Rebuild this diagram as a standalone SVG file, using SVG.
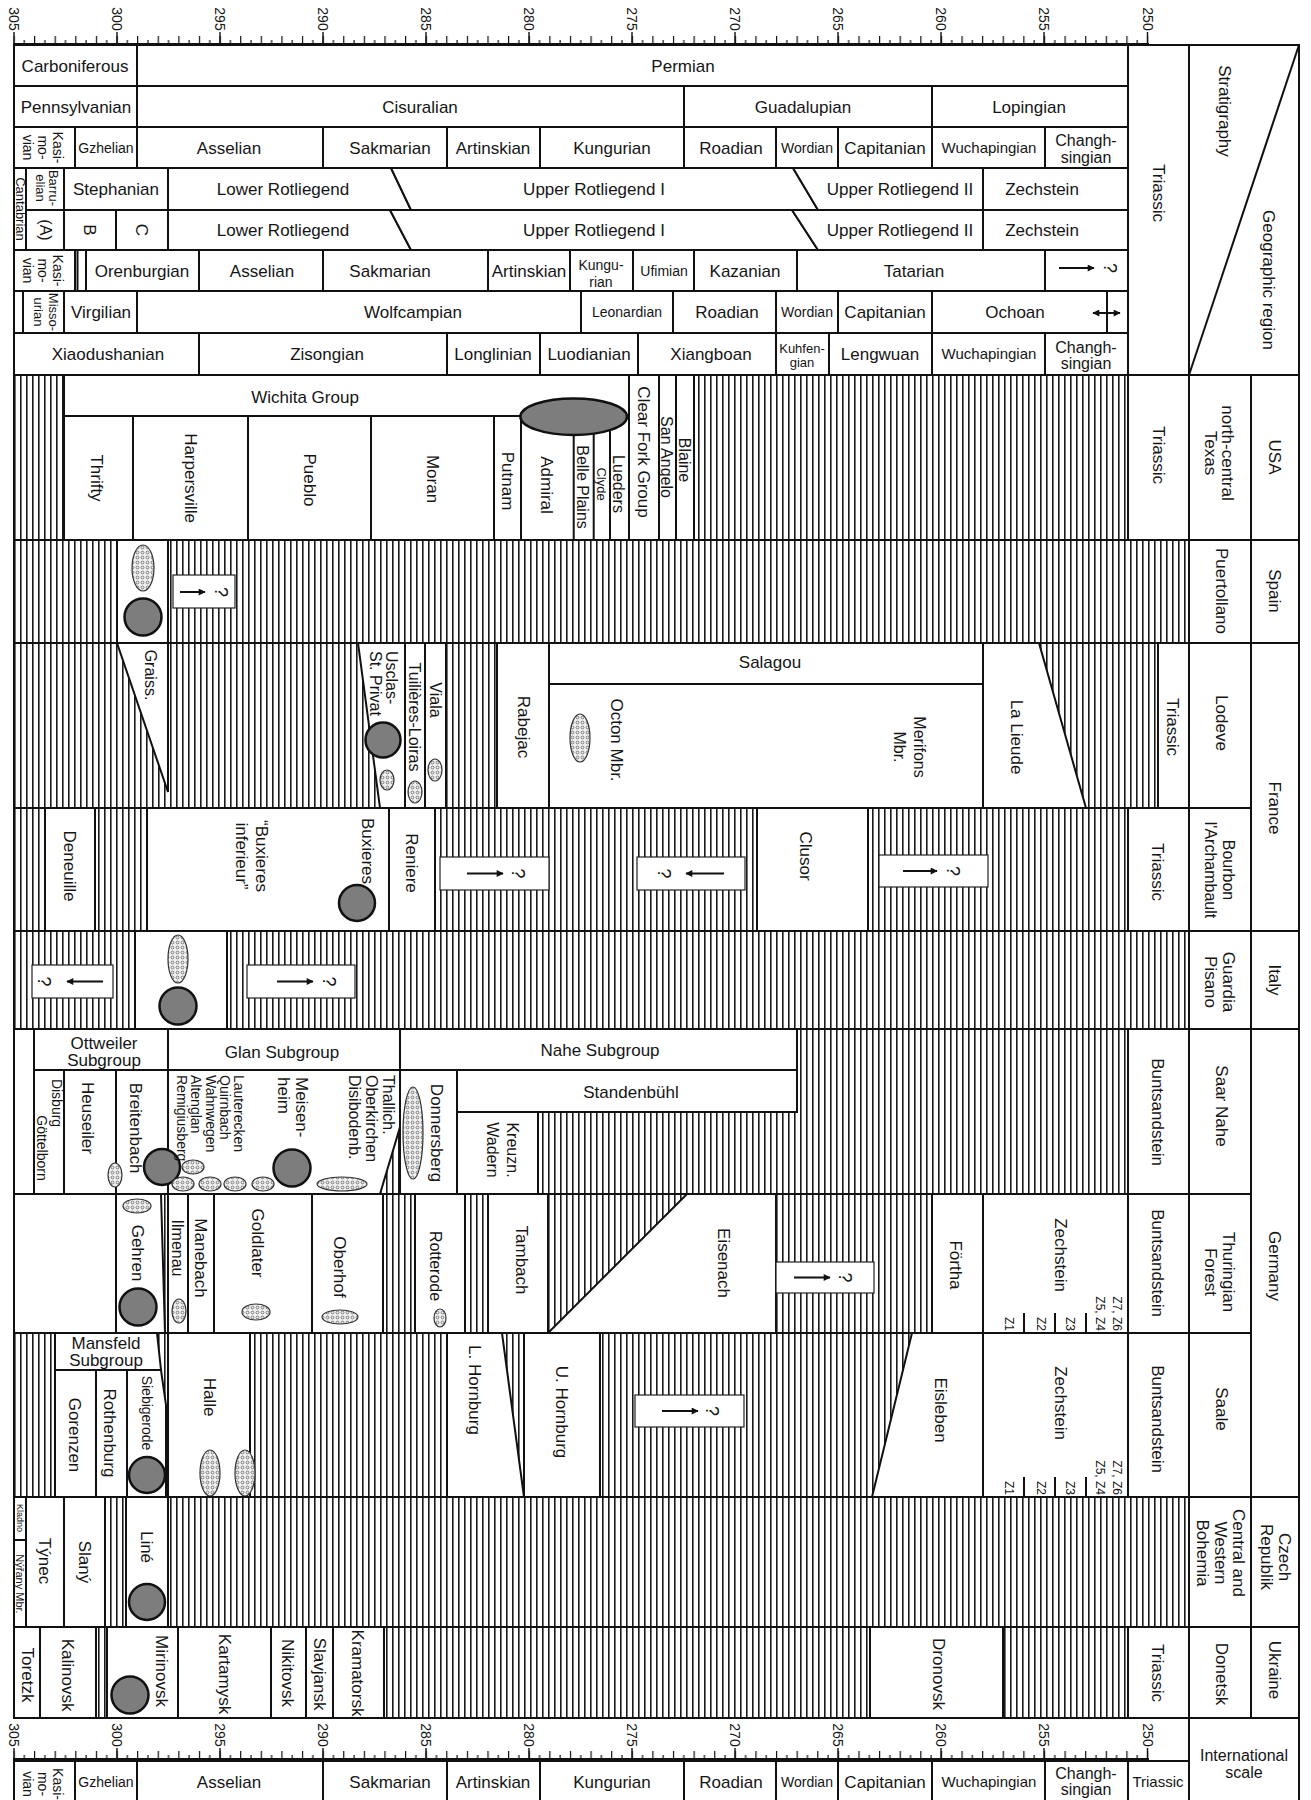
<svg xmlns="http://www.w3.org/2000/svg" width="1311" height="1800" viewBox="0 0 1311 1800">
<defs>
<pattern id="hv" x="0" y="0" width="6" height="20" patternUnits="userSpaceOnUse"><rect width="6" height="20" fill="#fff"/><rect x="2" y="0" width="1.6" height="20" fill="#1a1a1a"/></pattern>
<pattern id="dt" x="0" y="0" width="5" height="5" patternUnits="userSpaceOnUse"><rect width="5" height="5" fill="#f0f0f0"/><circle cx="2.5" cy="2.5" r="1.4" fill="none" stroke="#555" stroke-width="0.7"/></pattern>
<pattern id="tkT" x="13.4" y="36" width="20.61" height="8" patternUnits="userSpaceOnUse"><rect x="0" y="0" width="1.2" height="8" fill="#111"/><rect x="10.3" y="4" width="1.2" height="4" fill="#111"/></pattern>
<pattern id="tkB" x="13.4" y="1751" width="20.61" height="8" patternUnits="userSpaceOnUse"><rect x="0" y="0" width="1.2" height="8" fill="#111"/><rect x="10.3" y="4" width="1.2" height="4" fill="#111"/></pattern>
<marker id="ar" viewBox="0 0 10 10" refX="9" refY="5" markerWidth="9" markerHeight="7" markerUnits="userSpaceOnUse" orient="auto-start-reverse"><path d="M0,0 L10,5 L0,10 z" fill="#111"/></marker>
</defs>
<style>
text{font-family:"Liberation Sans",Arial,Helvetica,sans-serif;fill:#151515}
.c{fill:#fff;stroke:#111;stroke-width:2}
.hz{fill:url(#hv);stroke:#111;stroke-width:2}
.ln{stroke:#111;stroke-width:2;fill:none}
.t{font-size:17px;text-anchor:middle}
.s{font-size:14px;text-anchor:middle}
.m{font-size:15px;text-anchor:middle}
.f16{font-size:16px;text-anchor:middle}
.f13{font-size:13px;text-anchor:middle}
.st{font-size:14px;text-anchor:start}
.s16{font-size:16px;text-anchor:start}
.s17{font-size:17px;text-anchor:start}
.z{font-size:12px;text-anchor:end}
.n{font-size:14px;text-anchor:middle}
.q{font-size:18px;text-anchor:middle}
.g{fill:#7d7d7d;stroke:#111;stroke-width:2.5}
.d{fill:url(#dt);stroke:#333;stroke-width:1.2}
.ab{fill:#fff;stroke:#222;stroke-width:1.2}
.aw{stroke:#111;stroke-width:2;marker-end:url(#ar)}
.tk{stroke:#111;stroke-width:1.4}
</style>
<rect width="1311" height="1800" fill="#fff"/>

<g id="ruler-top">
<rect x="13.4" y="36" width="1136" height="8" fill="url(#tkT)"/>
<line class="ln" x1="13" y1="44" x2="1149" y2="44"/>
<path class="tk" d="M14 32V44M117 32V44M220 32V44M323 32V44M426 32V44M529 32V44M632 32V44M735 32V44M838 32V44M941 32V44M1044 32V44M1147.5 32V44"/>
<text class="n" transform="translate(14,19) rotate(90)" y="5">305</text>
<text class="n" transform="translate(117,19) rotate(90)" y="5">300</text>
<text class="n" transform="translate(220,19) rotate(90)" y="5">295</text>
<text class="n" transform="translate(323,19) rotate(90)" y="5">290</text>
<text class="n" transform="translate(426,19) rotate(90)" y="5">285</text>
<text class="n" transform="translate(529,19) rotate(90)" y="5">280</text>
<text class="n" transform="translate(632,19) rotate(90)" y="5">275</text>
<text class="n" transform="translate(735,19) rotate(90)" y="5">270</text>
<text class="n" transform="translate(838,19) rotate(90)" y="5">265</text>
<text class="n" transform="translate(941,19) rotate(90)" y="5">260</text>
<text class="n" transform="translate(1044,19) rotate(90)" y="5">255</text>
<text class="n" transform="translate(1147.5,19) rotate(90)" y="5">250</text>
</g>

<g id="header">
<rect class="c" x="14" y="45" width="123" height="41"/>
<rect class="c" x="137" y="45" width="991" height="41"/>
<text class="t" x="75" y="72">Carboniferous</text>
<text class="t" x="683" y="72">Permian</text>

<rect class="c" x="14" y="86" width="123" height="41"/>
<rect class="c" x="137" y="86" width="547" height="41"/>
<rect class="c" x="684" y="86" width="248" height="41"/>
<rect class="c" x="932" y="86" width="196" height="41"/>
<text class="t" x="76" y="113">Pennsylvanian</text>
<text class="t" x="420" y="113">Cisuralian</text>
<text class="t" x="803" y="113">Guadalupian</text>
<text class="t" x="1029" y="113">Lopingian</text>

<rect class="c" x="14" y="127" width="61" height="41"/>
<rect class="c" x="75" y="127" width="62" height="41"/>
<rect class="c" x="137" y="127" width="186" height="41"/>
<rect class="c" x="323" y="127" width="124" height="41"/>
<rect class="c" x="447" y="127" width="93" height="41"/>
<rect class="c" x="540" y="127" width="144" height="41"/>
<rect class="c" x="684" y="127" width="92" height="41"/>
<rect class="c" x="776" y="127" width="62" height="41"/>
<rect class="c" x="838" y="127" width="94" height="41"/>
<rect class="c" x="932" y="127" width="113" height="41"/>
<rect class="c" x="1045" y="127" width="83" height="41"/>
<text class="s" transform="translate(43,147.5) rotate(90)"><tspan x="0" y="-10">Kasi-</tspan><tspan x="0" y="5">mo-</tspan><tspan x="0" y="20">vian</tspan></text>
<text class="s" x="106" y="153">Gzhelian</text>
<text class="t" x="229" y="154">Asselian</text>
<text class="t" x="390" y="154">Sakmarian</text>
<text class="t" x="493" y="154">Artinskian</text>
<text class="t" x="612" y="154">Kungurian</text>
<text class="t" x="731" y="154">Roadian</text>
<text class="s" x="807" y="153">Wordian</text>
<text class="t" x="885" y="154">Capitanian</text>
<text class="m" x="989" y="153">Wuchapingian</text>
<text class="f16" x="1086"><tspan x="1086" y="146">Changh-</tspan><tspan x="1086" y="163">singian</tspan></text>

<rect class="c" x="14" y="168" width="12" height="82"/>
<rect class="c" x="26" y="168" width="38" height="42"/>
<rect class="c" x="64" y="168" width="104" height="42"/>
<polygon class="c" points="168,168 391,168 411,210 168,210"/>
<polygon class="c" points="391,168 793,168 818,210 411,210"/>
<polygon class="c" points="793,168 983,168 983,210 818,210"/>
<rect class="c" x="983" y="168" width="145" height="42"/>
<text class="f13" transform="translate(20,209) rotate(90)" y="4.5">Cantabrian</text>
<text class="f13" transform="translate(46.5,188) rotate(90)"><tspan x="0" y="-2">Barru-</tspan><tspan x="0" y="11">elian</tspan></text>
<text class="t" x="116" y="195">Stephanian</text>
<text class="t" x="283" y="195">Lower Rotliegend</text>
<text class="t" x="594" y="195">Upper Rotliegend I</text>
<text class="t" x="900" y="195">Upper Rotliegend II</text>
<text class="t" x="1042" y="195">Zechstein</text>

<rect class="c" x="26" y="210" width="38" height="40"/>
<rect class="c" x="64" y="210" width="52" height="40"/>
<rect class="c" x="116" y="210" width="52" height="40"/>
<polygon class="c" points="168,210 390,210 411,250 168,250"/>
<polygon class="c" points="390,210 792,210 818,250 411,250"/>
<polygon class="c" points="792,210 983,210 983,250 818,250"/>
<rect class="c" x="983" y="210" width="145" height="40"/>
<text class="f16" transform="translate(46,230) rotate(90)" y="5.6">(A)</text>
<text class="t" transform="translate(90,230) rotate(90)" y="6">B</text>
<text class="t" transform="translate(142,230) rotate(90)" y="6">C</text>
<text class="t" x="283" y="236">Lower Rotliegend</text>
<text class="t" x="594" y="236">Upper Rotliegend I</text>
<text class="t" x="900" y="236">Upper Rotliegend II</text>
<text class="t" x="1042" y="236">Zechstein</text>

<rect class="c" x="14" y="250" width="61" height="41"/>
<rect class="c" x="75" y="250" width="11" height="41"/>
<line class="ln" x1="77.5" y1="250" x2="77.5" y2="291"/>
<rect class="c" x="86" y="250" width="113" height="41"/>
<rect class="c" x="199" y="250" width="124" height="41"/>
<rect class="c" x="323" y="250" width="165" height="41"/>
<rect class="c" x="488" y="250" width="82" height="41"/>
<rect class="c" x="570" y="250" width="63" height="41"/>
<rect class="c" x="633" y="250" width="61" height="41"/>
<rect class="c" x="694" y="250" width="103" height="41"/>
<rect class="c" x="797" y="250" width="248" height="41"/>
<rect class="c" x="1045" y="250" width="83" height="41"/>
<text class="s" transform="translate(43,270.5) rotate(90)"><tspan x="0" y="-10">Kasi-</tspan><tspan x="0" y="5">mo-</tspan><tspan x="0" y="20">vian</tspan></text>
<text class="t" x="142" y="277">Orenburgian</text>
<text class="t" x="262" y="277">Asselian</text>
<text class="t" x="390" y="277">Sakmarian</text>
<text class="t" x="529" y="277">Artinskian</text>
<text class="s" x="601"><tspan x="601" y="270">Kungu-</tspan><tspan x="601" y="287">rian</tspan></text>
<text class="s" x="664" y="276">Ufimian</text>
<text class="t" x="745" y="277">Kazanian</text>
<text class="t" x="914" y="277">Tatarian</text>
<line class="aw" x1="1059" y1="268" x2="1094" y2="268"/>
<text class="q" transform="translate(1110,268) rotate(90)" y="6">?</text>

<rect class="c" x="14" y="291" width="9" height="42"/>
<rect class="c" x="23" y="291" width="41" height="42"/>
<rect class="c" x="64" y="291" width="73" height="42"/>
<rect class="c" x="137" y="291" width="444" height="42"/>
<rect class="c" x="581" y="291" width="92" height="42"/>
<rect class="c" x="673" y="291" width="103" height="42"/>
<rect class="c" x="776" y="291" width="62" height="42"/>
<rect class="c" x="838" y="291" width="94" height="42"/>
<rect class="c" x="932" y="291" width="175" height="42"/>
<rect class="c" x="1107" y="291" width="21" height="42"/>
<text class="f13" transform="translate(45.5,312) rotate(90)"><tspan x="0" y="-3">Misso-</tspan><tspan x="0" y="12">urian</tspan></text>
<text class="t" x="101" y="318">Virgilian</text>
<text class="t" x="413" y="318">Wolfcampian</text>
<text class="s" x="627" y="317">Leonardian</text>
<text class="t" x="727" y="318">Roadian</text>
<text class="s" x="807" y="317">Wordian</text>
<text class="t" x="885" y="318">Capitanian</text>
<text class="t" x="1015" y="318">Ochoan</text>
<line class="aw" x1="1093" y1="313" x2="1120" y2="313" marker-start="url(#ar)"/>

<rect class="c" x="14" y="333" width="185" height="42"/>
<rect class="c" x="199" y="333" width="248" height="42"/>
<rect class="c" x="447" y="333" width="93" height="42"/>
<rect class="c" x="540" y="333" width="98" height="42"/>
<rect class="c" x="638" y="333" width="138" height="42"/>
<rect class="c" x="776" y="333" width="53" height="42"/>
<rect class="c" x="829" y="333" width="103" height="42"/>
<rect class="c" x="932" y="333" width="113" height="42"/>
<rect class="c" x="1045" y="333" width="83" height="42"/>
<text class="t" x="108" y="360">Xiaodushanian</text>
<text class="t" x="327" y="360">Zisongian</text>
<text class="t" x="493" y="360">Longlinian</text>
<text class="t" x="589" y="360">Luodianian</text>
<text class="t" x="711" y="360">Xiangboan</text>
<text class="f13" x="802"><tspan x="802" y="353">Kuhfen-</tspan><tspan x="802" y="367">gian</tspan></text>
<text class="t" x="880" y="360">Lengwuan</text>
<text class="m" x="989" y="359">Wuchapingian</text>
<text class="f16" x="1086"><tspan x="1086" y="353">Changh-</tspan><tspan x="1086" y="369">singian</tspan></text>

<rect class="c" x="1128" y="45" width="61" height="330"/>
<text class="t" transform="translate(1159,193) rotate(90)" y="6">Triassic</text>
<rect class="c" x="1189" y="45" width="110" height="330"/>
<line class="ln" x1="1189" y1="375" x2="1299" y2="45"/>
<text class="t" transform="translate(1225,111) rotate(90)" y="6">Stratigraphy</text>
<text class="t" transform="translate(1269,280) rotate(90)" y="6">Geographic region</text>
</g>

<g id="region-labels">
<rect class="c" x="1189" y="375" width="62" height="165"/>
<rect class="c" x="1189" y="540" width="62" height="103"/>
<rect class="c" x="1189" y="643" width="62" height="165"/>
<rect class="c" x="1189" y="808" width="62" height="123"/>
<rect class="c" x="1189" y="931" width="62" height="98"/>
<rect class="c" x="1189" y="1029" width="62" height="165"/>
<rect class="c" x="1189" y="1194" width="62" height="139"/>
<rect class="c" x="1189" y="1333" width="62" height="164"/>
<rect class="c" x="1189" y="1497" width="62" height="130"/>
<rect class="c" x="1189" y="1627" width="62" height="91"/>
<rect class="c" x="1251" y="375" width="48" height="165"/>
<rect class="c" x="1251" y="540" width="48" height="103"/>
<rect class="c" x="1251" y="643" width="48" height="288"/>
<rect class="c" x="1251" y="931" width="48" height="98"/>
<rect class="c" x="1251" y="1029" width="48" height="468"/>
<rect class="c" x="1251" y="1497" width="48" height="130"/>
<rect class="c" x="1251" y="1627" width="48" height="91"/>
<rect class="c" x="1189" y="1718" width="110" height="100"/>
<text class="t" transform="translate(1220,453) rotate(90)"><tspan x="0" y="-2">north-central</tspan><tspan x="0" y="15">Texas</tspan></text>
<text class="t" transform="translate(1275,457) rotate(90)" y="6">USA</text>
<text class="t" transform="translate(1222,591) rotate(90)" y="6">Puertollano</text>
<text class="t" transform="translate(1275,591) rotate(90)" y="6">Spain</text>
<text class="t" transform="translate(1222,723) rotate(90)" y="6">Lodeve</text>
<text class="t" transform="translate(1275,808) rotate(90)" y="6">France</text>
<text class="f16" transform="translate(1220,870) rotate(90)"><tspan x="0" y="-3">Bourbon</tspan><tspan x="0" y="15">l'Archambault</tspan></text>
<text class="t" transform="translate(1220,982) rotate(90)"><tspan x="0" y="-3">Guardia</tspan><tspan x="0" y="15">Pisano</tspan></text>
<text class="t" transform="translate(1275,980) rotate(90)" y="6">Italy</text>
<text class="t" transform="translate(1222,1106) rotate(90)" y="6">Saar Nahe</text>
<text class="t" transform="translate(1275,1266) rotate(90)" y="6">Germany</text>
<text class="t" transform="translate(1220,1272) rotate(90)"><tspan x="0" y="-3">Thuringian</tspan><tspan x="0" y="15">Forest</tspan></text>
<text class="t" transform="translate(1222,1409) rotate(90)" y="6">Saale</text>
<text class="t" transform="translate(1221,1553) rotate(90)"><tspan x="0" y="-12">Central and</tspan><tspan x="0" y="6">Western</tspan><tspan x="0" y="24">Bohemia</tspan></text>
<text class="t" transform="translate(1276,1557) rotate(90)"><tspan x="0" y="-3">Czech</tspan><tspan x="0" y="15">Republik</tspan></text>
<text class="t" transform="translate(1222,1674) rotate(90)" y="6">Donetsk</text>
<text class="t" transform="translate(1275,1670) rotate(90)" y="6">Ukraine</text>
<text class="f16" x="1244" y="1761">International</text>
<text class="f16" x="1244" y="1778">scale</text>
</g>

<g id="usa">
<rect class="hz" x="14" y="375" width="1114" height="165"/>
<rect class="c" x="64" y="375" width="565" height="41"/>
<rect class="c" x="64" y="416" width="565" height="124"/>
<path class="ln" d="M133 416V540M248 416V540M371 416V540M494 416V540M521 416V540M573.7 430V540M593.7 430V540M610 428V540"/>
<rect class="c" x="629" y="375" width="30" height="165"/>
<rect class="c" x="659" y="375" width="17" height="165"/>
<rect class="c" x="676" y="375" width="18" height="165"/>
<ellipse cx="573.7" cy="416.7" rx="53.3" ry="18.3" fill="#7d7d7d" stroke="#111" stroke-width="2.5"/>
<rect class="c" x="1128" y="375" width="61" height="165"/>
<text class="t" x="305" y="403">Wichita Group</text>
<text class="t" transform="translate(97,478) rotate(90)" y="6">Thrifty</text>
<text class="t" transform="translate(191,478) rotate(90)" y="6">Harpersville</text>
<text class="t" transform="translate(310,480) rotate(90)" y="6">Pueblo</text>
<text class="t" transform="translate(433,479) rotate(90)" y="6">Moran</text>
<text class="t" transform="translate(508,481) rotate(90)" y="6">Putnam</text>
<text class="t" transform="translate(547,485) rotate(90)" y="6">Admiral</text>
<text class="f16" transform="translate(583,487) rotate(90)" y="5.6">Belle Plains</text>
<text class="f13" transform="translate(601,484) rotate(90)" y="4.5">Clyde</text>
<text class="f16" transform="translate(619,484) rotate(90)" y="5.6">Lueders</text>
<text class="t" transform="translate(644,452) rotate(90)" y="6">Clear Fork Group</text>
<text class="f16" transform="translate(667,457) rotate(90)" y="5.6">San Angelo</text>
<text class="f16" transform="translate(685,460) rotate(90)" y="5.6">Blaine</text>
<text class="t" transform="translate(1159,455) rotate(90)" y="6">Triassic</text>
</g>

<g id="spain">
<rect class="hz" x="14" y="540" width="1175" height="103"/>
<rect class="c" x="117" y="540" width="51" height="103"/>
<ellipse class="d" cx="143" cy="568" rx="11" ry="23"/>
<circle class="g" cx="143" cy="617" r="18.5"/>
<rect class="ab" x="173" y="575" width="62" height="33"/>
<line class="aw" x1="180" y1="592" x2="205" y2="592"/>
<text class="q" transform="translate(221,592) rotate(90)" y="6">?</text>
</g>

<g id="lodeve">
<rect class="hz" x="14" y="643" width="1144" height="165"/>
<polygon class="c" points="117,643 168,643 168,792"/>
<polygon class="c" points="358,643 405,643 405,808 380,808"/>
<rect class="c" x="405" y="643" width="20" height="165"/>
<rect class="c" x="425" y="643" width="21" height="165"/>
<rect class="c" x="497" y="643" width="52" height="165"/>
<rect class="c" x="549" y="643" width="434" height="41"/>
<rect class="c" x="549" y="684" width="434" height="124"/>
<polygon class="c" points="983,643 1039,643 1086,808 983,808"/>
<rect class="c" x="1158" y="643" width="31" height="165"/>
<text class="f16" transform="translate(151,675) rotate(90)" y="5.6">Graiss.</text>
<text class="s16" transform="translate(384,651) rotate(90)"><tspan x="0" y="-2.4">Usclas-</tspan><tspan x="0" y="13.6">St. Privat</tspan></text>
<circle class="g" cx="383" cy="740" r="17.5"/>
<ellipse class="d" cx="387" cy="780" rx="7" ry="10"/>
<text class="f16" transform="translate(415,717) rotate(90)" y="5.6">Tuilières-Loiras</text>
<ellipse class="d" cx="415" cy="792" rx="7" ry="11"/>
<text class="f16" transform="translate(436,700) rotate(90)" y="5.6">Viala</text>
<ellipse class="d" cx="435" cy="770" rx="7" ry="11"/>
<text class="t" transform="translate(524,727) rotate(90)" y="6">Rabejac</text>
<text class="t" x="770" y="668">Salagou</text>
<text class="t" transform="translate(617,740) rotate(90)" y="6">Octon Mbr.</text>
<ellipse class="d" cx="580" cy="738" rx="10" ry="24"/>
<text class="f16" transform="translate(910,747) rotate(90)"><tspan x="0" y="-4">Merifons</tspan><tspan x="0" y="16">Mbr.</tspan></text>
<text class="t" transform="translate(1017,737) rotate(90)" y="6">La Lieude</text>
<text class="t" transform="translate(1173,727) rotate(90)" y="6">Triassic</text>
</g>

<g id="bourbon">
<rect class="hz" x="14" y="808" width="1114" height="123"/>
<rect class="c" x="45" y="808" width="50" height="123"/>
<rect class="c" x="147" y="808" width="242" height="123"/>
<rect class="c" x="389" y="808" width="46" height="123"/>
<rect class="c" x="757" y="808" width="111" height="123"/>
<rect class="c" x="1128" y="808" width="61" height="123"/>
<text class="t" transform="translate(70,866) rotate(90)" y="6">Deneuille</text>
<text class="t" transform="translate(252,856) rotate(90)"><tspan x="0" y="-4">“Buxieres</tspan><tspan x="0" y="16">inferieur”</tspan></text>
<text class="t" transform="translate(368,851) rotate(90)" y="6">Buxieres</text>
<circle class="g" cx="357" cy="903" r="18"/>
<text class="t" transform="translate(412,863) rotate(90)" y="6">Reniere</text>
<text class="t" transform="translate(806,856) rotate(90)" y="6">Clusor</text>
<rect class="ab" x="440" y="857" width="109" height="33"/>
<line class="aw" x1="467" y1="873.5" x2="503" y2="873.5"/>
<text class="q" transform="translate(518,873.5) rotate(90)" y="6">?</text>
<rect class="ab" x="637" y="857" width="108" height="33"/>
<line class="aw" x1="724" y1="873.5" x2="686" y2="873.5"/>
<text class="q" transform="translate(664,873.5) rotate(90)" y="6">?</text>
<rect class="ab" x="879" y="855" width="109" height="32"/>
<line class="aw" x1="903" y1="871" x2="937" y2="871"/>
<text class="q" transform="translate(953,871) rotate(90)" y="6">?</text>
<text class="t" transform="translate(1158,872) rotate(90)" y="6">Triassic</text>
</g>

<g id="italy">
<rect class="hz" x="14" y="931" width="1175" height="98"/>
<rect class="c" x="135" y="931" width="92" height="98"/>
<ellipse class="d" cx="178" cy="959" rx="10" ry="24"/>
<circle class="g" cx="178" cy="1006" r="18.5"/>
<rect class="ab" x="32" y="965" width="81" height="33"/>
<line class="aw" x1="103" y1="981.5" x2="67" y2="981.5"/>
<text class="q" transform="translate(44,981.5) rotate(90)" y="6">?</text>
<rect class="ab" x="247" y="965" width="108" height="33"/>
<line class="aw" x1="277" y1="981.5" x2="313" y2="981.5"/>
<text class="q" transform="translate(329,981.5) rotate(90)" y="6">?</text>
</g>

<g id="saar-nahe">
<rect class="hz" x="14" y="1029" width="1114" height="165"/>
<rect class="c" x="14" y="1029" width="20" height="165"/>
<rect class="c" x="34" y="1029" width="134" height="41"/>
<rect class="c" x="168" y="1029" width="232" height="41"/>
<rect class="c" x="400" y="1029" width="397" height="41"/>
<rect class="c" x="457" y="1070" width="340" height="42"/>
<rect class="c" x="400" y="1070" width="57" height="124"/>
<rect class="c" x="457" y="1112" width="81" height="82"/>
<rect class="c" x="34" y="1070" width="30" height="124"/>
<rect class="c" x="64" y="1070" width="52" height="124"/>
<rect class="c" x="116" y="1070" width="52" height="124"/>
<polygon class="c" points="168,1070 400,1070 400,1127 380,1194 168,1194"/>
<rect class="c" x="1128" y="1029" width="61" height="165"/>
<text class="t" x="104" y="1049">Ottweiler</text>
<text class="t" x="104" y="1066">Subgroup</text>
<text class="t" x="282" y="1058">Glan Subgroup</text>
<text class="t" x="600" y="1056">Nahe Subgroup</text>
<text class="t" x="631" y="1098">Standenbühl</text>
<ellipse class="d" cx="413" cy="1133" rx="10" ry="46"/>
<text class="t" transform="translate(437,1133) rotate(90)" y="6">Donnersberg</text>
<text class="f16" transform="translate(503,1150) rotate(90)"><tspan x="0" y="-4">Kreuzn.</tspan><tspan x="0" y="16">Wadern</tspan></text>
<text class="s" transform="translate(57,1103) rotate(90)" y="5">Disburg</text>
<text class="s" transform="translate(42,1148) rotate(90)" y="5">Göttelborn</text>
<text class="t" transform="translate(88,1118) rotate(90)" y="6">Heuseiler</text>
<ellipse class="d" cx="115" cy="1175" rx="7" ry="12"/>
<text class="t" transform="translate(136,1128) rotate(90)" y="6">Breitenbach</text>
<circle class="g" cx="162" cy="1167" r="18"/>
<text class="st" transform="translate(211,1075) rotate(90)"><tspan x="0" y="-23">Lauterecken</tspan><tspan x="0" y="-9">Quirnbach</tspan><tspan x="0" y="5">Wahnwegen</tspan><tspan x="0" y="20">Altenglan</tspan><tspan x="0" y="34">Remigiusberg</tspan></text>
<text class="s17" transform="translate(293,1077) rotate(90)"><tspan x="0" y="-3">Meisen-</tspan><tspan x="0" y="15">heim</tspan></text>
<circle class="g" cx="292" cy="1168" r="18.5"/>
<text class="s16" transform="translate(371,1075) rotate(90)"><tspan x="0" y="-11.5">Thallich.</tspan><tspan x="0" y="5.5">Oberkirchen</tspan><tspan x="0" y="22.5">Disibodenb.</tspan></text>
<ellipse class="d" cx="193" cy="1167" rx="11" ry="7"/>
<ellipse class="d" cx="183" cy="1184" rx="11" ry="7"/>
<ellipse class="d" cx="210" cy="1184" rx="11" ry="7"/>
<ellipse class="d" cx="235" cy="1184" rx="11" ry="7"/>
<ellipse class="d" cx="263" cy="1184" rx="11" ry="7"/>
<ellipse class="d" cx="342" cy="1184" rx="25" ry="7"/>
<text class="t" transform="translate(1158,1112) rotate(90)" y="6">Buntsandstein</text>
</g>

<g id="thuringian">
<rect class="hz" x="14" y="1194" width="1114" height="139"/>
<rect class="c" x="14" y="1194" width="102" height="139"/>
<polygon class="c" points="116,1194 161,1194 165,1333 116,1333"/>
<rect class="c" x="168" y="1194" width="20" height="139"/>
<rect class="c" x="188" y="1194" width="26" height="139"/>
<rect class="c" x="214" y="1194" width="98" height="139"/>
<rect class="c" x="312" y="1194" width="71" height="139"/>
<rect class="c" x="415" y="1194" width="50" height="139"/>
<rect class="c" x="488" y="1194" width="60" height="139"/>
<polygon class="c" points="687,1194 776,1194 776,1333 548,1333"/>
<rect class="c" x="932" y="1194" width="51" height="139"/>
<rect class="c" x="983" y="1194" width="145" height="139"/>
<rect class="c" x="1128" y="1194" width="61" height="139"/>
<text class="t" transform="translate(138,1253) rotate(90)" y="6">Gehren</text>
<ellipse class="d" cx="137" cy="1206" rx="14" ry="7"/>
<circle class="g" cx="138" cy="1307" r="18.5"/>
<text class="f16" transform="translate(178,1248) rotate(90)" y="5.6">Ilmenau</text>
<ellipse class="d" cx="179" cy="1311" rx="7" ry="12"/>
<text class="t" transform="translate(201,1258) rotate(90)" y="6">Manebach</text>
<text class="t" transform="translate(258,1243) rotate(90)" y="6">Goldlater</text>
<ellipse class="d" cx="256" cy="1312" rx="14" ry="8"/>
<text class="t" transform="translate(340,1267) rotate(90)" y="6">Oberhof</text>
<ellipse class="d" cx="340" cy="1317" rx="18" ry="7"/>
<text class="f16" transform="translate(436,1266) rotate(90)" y="5.6">Rotterode</text>
<ellipse class="d" cx="440" cy="1318" rx="6" ry="9"/>
<text class="t" transform="translate(522,1260) rotate(90)" y="6">Tambach</text>
<text class="t" transform="translate(724,1263) rotate(90)" y="6">Eisenach</text>
<rect class="ab" x="776" y="1262" width="98" height="31"/>
<line class="aw" x1="794" y1="1277.5" x2="830" y2="1277.5"/>
<text class="q" transform="translate(845,1277.5) rotate(90)" y="6">?</text>
<text class="t" transform="translate(956,1265) rotate(90)" y="6">Förtha</text>
<text class="t" transform="translate(1061,1255) rotate(90)" y="6">Zechstein</text>
<path class="ln" d="M1024 1313V1333M1055 1313V1333M1086 1313V1333"/>
<text class="z" transform="translate(1009,1331) rotate(90)" y="4">Z1</text>
<text class="z" transform="translate(1041,1331) rotate(90)" y="4">Z2</text>
<text class="z" transform="translate(1070,1331) rotate(90)" y="4">Z3</text>
<text class="z" transform="translate(1100,1331) rotate(90)" y="4">Z5, Z4</text>
<text class="z" transform="translate(1117,1331) rotate(90)" y="4">Z7, Z6</text>
<text class="t" transform="translate(1158,1263) rotate(90)" y="6">Buntsandstein</text>
</g>

<g id="saale">
<rect class="hz" x="14" y="1333" width="1114" height="164"/>
<polygon class="c" points="55,1333 157,1333 161,1370 55,1370"/>
<rect class="c" x="55" y="1370" width="41" height="127"/>
<rect class="c" x="96" y="1370" width="31" height="127"/>
<polygon class="c" points="127,1370 161,1370 166,1405 166,1497 127,1497"/>
<rect class="c" x="168" y="1333" width="82" height="164"/>
<polygon class="c" points="447,1333 502,1333 524,1497 447,1497"/>
<rect class="c" x="524" y="1333" width="76" height="164"/>
<polygon class="c" points="912,1333 983,1333 983,1497 872,1497"/>
<rect class="c" x="983" y="1333" width="145" height="164"/>
<rect class="c" x="1128" y="1333" width="61" height="164"/>
<text class="t" x="106" y="1349">Mansfeld</text>
<text class="t" x="106" y="1366">Subgroup</text>
<text class="t" transform="translate(75,1435) rotate(90)" y="6">Gorenzen</text>
<text class="t" transform="translate(110,1433) rotate(90)" y="6">Rothenburg</text>
<text class="s" transform="translate(147,1413) rotate(90)" y="5">Siebigerode</text>
<circle class="g" cx="147" cy="1475" r="18"/>
<text class="t" transform="translate(210,1397) rotate(90)" y="6">Halle</text>
<ellipse class="d" cx="210" cy="1473" rx="10" ry="23"/>
<ellipse class="d" cx="245" cy="1473" rx="10" ry="23"/>
<text class="t" transform="translate(475,1390) rotate(90)" y="6">L. Hornburg</text>
<text class="t" transform="translate(562,1412) rotate(90)" y="6">U. Hornburg</text>
<rect class="ab" x="635" y="1395" width="109" height="32"/>
<line class="aw" x1="662" y1="1411" x2="698" y2="1411"/>
<text class="q" transform="translate(712,1411) rotate(90)" y="6">?</text>
<text class="t" transform="translate(941,1410) rotate(90)" y="6">Eisleben</text>
<text class="t" transform="translate(1061,1403) rotate(90)" y="6">Zechstein</text>
<path class="ln" d="M1024 1477V1497M1055 1477V1497M1086 1477V1497"/>
<text class="z" transform="translate(1009,1495) rotate(90)" y="4">Z1</text>
<text class="z" transform="translate(1041,1495) rotate(90)" y="4">Z2</text>
<text class="z" transform="translate(1070,1495) rotate(90)" y="4">Z3</text>
<text class="z" transform="translate(1100,1495) rotate(90)" y="4">Z5, Z4</text>
<text class="z" transform="translate(1117,1495) rotate(90)" y="4">Z7, Z6</text>
<text class="t" transform="translate(1158,1419) rotate(90)" y="6">Buntsandstein</text>
</g>

<g id="czech">
<rect class="hz" x="14" y="1497" width="1175" height="130"/>
<rect class="c" x="14" y="1497" width="12" height="43"/>
<rect class="c" x="14" y="1540" width="12" height="87"/>
<rect class="c" x="26" y="1497" width="38" height="130"/>
<rect class="c" x="64" y="1497" width="41" height="130"/>
<rect class="c" x="126" y="1497" width="42" height="130"/>
<text font-size="9" text-anchor="middle" transform="translate(20,1518) rotate(90)" y="3">Kladno</text>
<text font-size="11" text-anchor="middle" transform="translate(20,1584) rotate(90)" y="4">Nýřany Mbr.</text>
<text class="t" transform="translate(45,1561) rotate(90)" y="6">Týnec</text>
<text class="t" transform="translate(85,1562) rotate(90)" y="6">Slaný</text>
<text class="t" transform="translate(147,1547) rotate(90)" y="6">Liné</text>
<circle class="g" cx="147" cy="1602" r="18"/>
</g>

<g id="ukraine">
<rect class="hz" x="14" y="1627" width="1114" height="91"/>
<rect class="c" x="14" y="1627" width="26" height="91"/>
<rect class="c" x="40" y="1627" width="56" height="91"/>
<rect class="c" x="107" y="1627" width="71" height="91"/>
<rect class="c" x="178" y="1627" width="93" height="91"/>
<rect class="c" x="271" y="1627" width="35" height="91"/>
<rect class="c" x="306" y="1627" width="27" height="91"/>
<rect class="c" x="333" y="1627" width="51" height="91"/>
<rect class="c" x="870" y="1627" width="133" height="91"/>
<rect class="c" x="1128" y="1627" width="61" height="91"/>
<text class="t" transform="translate(28,1675) rotate(90)" y="6">Toretzk</text>
<text class="t" transform="translate(68,1675) rotate(90)" y="6">Kalinovsk</text>
<text class="t" transform="translate(162,1671) rotate(90)" y="6">Mirinovsk</text>
<circle class="g" cx="130" cy="1695" r="18.5"/>
<text class="t" transform="translate(225,1674) rotate(90)" y="6">Kartamysk</text>
<text class="t" transform="translate(288,1673) rotate(90)" y="6">Nikitovsk</text>
<text class="t" transform="translate(320,1674) rotate(90)" y="6">Slavjansk</text>
<text class="t" transform="translate(358,1673) rotate(90)" y="6">Kramatorsk</text>
<text class="t" transform="translate(939,1674) rotate(90)" y="6">Dronovsk</text>
<text class="t" transform="translate(1158,1673) rotate(90)" y="6">Triassic</text>
</g>

<g id="ruler-bottom">
<line class="ln" x1="14" y1="1718" x2="1189" y2="1718"/>
<rect x="13.4" y="1751" width="1136" height="8" fill="url(#tkB)"/>
<line class="ln" x1="13" y1="1759" x2="1149" y2="1759"/>
<path class="tk" d="M14 1748V1759M117 1748V1759M220 1748V1759M323 1748V1759M426 1748V1759M529 1748V1759M632 1748V1759M735 1748V1759M838 1748V1759M941 1748V1759M1044 1748V1759M1147.5 1748V1759"/>
<text class="n" transform="translate(14,1735) rotate(90)" y="5">305</text>
<text class="n" transform="translate(117,1735) rotate(90)" y="5">300</text>
<text class="n" transform="translate(220,1735) rotate(90)" y="5">295</text>
<text class="n" transform="translate(323,1735) rotate(90)" y="5">290</text>
<text class="n" transform="translate(426,1735) rotate(90)" y="5">285</text>
<text class="n" transform="translate(529,1735) rotate(90)" y="5">280</text>
<text class="n" transform="translate(632,1735) rotate(90)" y="5">275</text>
<text class="n" transform="translate(735,1735) rotate(90)" y="5">270</text>
<text class="n" transform="translate(838,1735) rotate(90)" y="5">265</text>
<text class="n" transform="translate(941,1735) rotate(90)" y="5">260</text>
<text class="n" transform="translate(1044,1735) rotate(90)" y="5">255</text>
<text class="n" transform="translate(1147.5,1735) rotate(90)" y="5">250</text>
</g>

<g id="scale-bottom">
<rect class="c" x="14" y="1761" width="61" height="50"/>
<rect class="c" x="75" y="1761" width="62" height="50"/>
<rect class="c" x="137" y="1761" width="186" height="50"/>
<rect class="c" x="323" y="1761" width="124" height="50"/>
<rect class="c" x="447" y="1761" width="93" height="50"/>
<rect class="c" x="540" y="1761" width="144" height="50"/>
<rect class="c" x="684" y="1761" width="92" height="50"/>
<rect class="c" x="776" y="1761" width="62" height="50"/>
<rect class="c" x="838" y="1761" width="94" height="50"/>
<rect class="c" x="932" y="1761" width="113" height="50"/>
<rect class="c" x="1045" y="1761" width="83" height="50"/>
<rect class="c" x="1128" y="1761" width="61" height="50"/>
<text class="s" transform="translate(43,1784) rotate(90)"><tspan x="0" y="-10">Kasi-</tspan><tspan x="0" y="5">mo-</tspan><tspan x="0" y="20">vian</tspan></text>
<text class="s" x="106" y="1787">Gzhelian</text>
<text class="t" x="229" y="1788">Asselian</text>
<text class="t" x="390" y="1788">Sakmarian</text>
<text class="t" x="493" y="1788">Artinskian</text>
<text class="t" x="612" y="1788">Kungurian</text>
<text class="t" x="731" y="1788">Roadian</text>
<text class="s" x="807" y="1787">Wordian</text>
<text class="t" x="885" y="1788">Capitanian</text>
<text class="m" x="989" y="1787">Wuchapingian</text>
<text class="f16" x="1086"><tspan x="1086" y="1779">Changh-</tspan><tspan x="1086" y="1795">singian</tspan></text>
<text class="m" x="1158" y="1787">Triassic</text>
</g>
</svg>
